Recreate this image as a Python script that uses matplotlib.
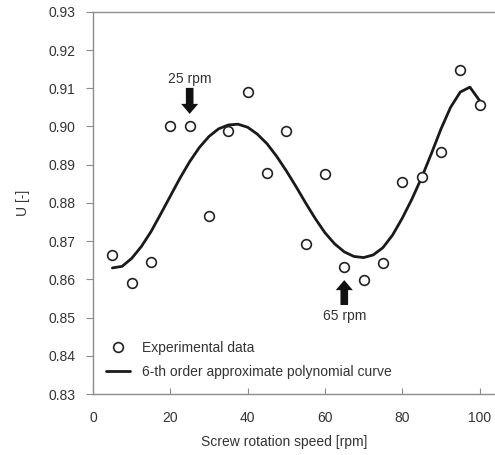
import matplotlib
matplotlib.use("Agg")
import matplotlib.pyplot as plt

plt.rcParams['font.family'] = ['Liberation Sans', 'DejaVu Sans']

# experimental data
speed = [5, 10, 15, 20, 25, 30, 35, 40, 45, 50, 55, 60, 65, 70, 75, 80, 85, 90, 95, 100]
U = [0.8664, 0.8590, 0.8645, 0.9000, 0.9000, 0.8767, 0.8987, 0.9090, 0.8879, 0.8988,
     0.8693, 0.8876, 0.8633, 0.8598, 0.8644, 0.8854, 0.8869, 0.8934, 0.9149, 0.9057]

# 6-th order curve
curve_x = [5, 7.5, 10, 12.5, 15, 17.5, 20, 22.5, 25, 27.5, 30, 32.5, 35, 37.5, 40,
           42.5, 45, 47.5, 50, 52.5, 55, 57.5, 60, 62.5, 65, 67.5, 70, 72.5, 75,
           77.5, 80, 82.5, 85, 87.5, 90, 92.5, 95, 97.5, 100]
curve_y = [0.8630, 0.8634, 0.8655, 0.8686, 0.8725, 0.8771, 0.8818, 0.8865, 0.8908,
           0.8945, 0.8974, 0.8994, 0.9004, 0.9006, 0.8998, 0.8980, 0.8955, 0.8922,
           0.8884, 0.8843, 0.8800, 0.8759, 0.8722, 0.8693, 0.8672, 0.8660, 0.8657,
           0.8664, 0.8683, 0.8716, 0.8760, 0.8810, 0.8866, 0.8928, 0.8993, 0.9050,
           0.9090, 0.9103, 0.9068]

xticks = [0, 20, 40, 60, 80, 100]
yticks = [0.83, 0.84, 0.85, 0.86, 0.87, 0.88, 0.89, 0.90, 0.91, 0.92, 0.93]

fig = plt.figure(figsize=(4.95, 4.55), dpi=100)
ax = fig.add_axes([0.188, 0.134, 0.812, 0.84])

ax.plot(speed, U, 'o', mfc='white', mec='#222222', ms=7, mew=1.2, ls='none',
        label='Experimental data', zorder=3)
ax.plot(curve_x, curve_y, color='#1a1a1a', lw=2.0, solid_joinstyle='round',
        solid_capstyle='round', label='6-th order approximate polynomial curve')

ax.set_xlim(0, 104)
ax.set_ylim(0.83, 0.93)
ax.set_xticks(xticks)
ax.set_yticks(yticks)
ax.set_yticklabels(['%.2f' % v for v in yticks])

for s in ['left', 'bottom', 'top']:
    ax.spines[s].set_color('#8c8c8c')
    ax.spines[s].set_linewidth(1.0)
ax.spines['right'].set_visible(False)

ax.tick_params(axis='x', direction='in', length=4, color='#8c8c8c', labelsize=10,
               labelcolor='#333333', pad=12)
ax.tick_params(axis='y', direction='out', length=5, color='#8c8c8c', labelsize=10,
               labelcolor='#333333', pad=8)

ax.set_xlabel('Screw rotation speed [rpm]', fontsize=10, color='#333333')
ax.xaxis.set_label_coords(0.475, -0.108)
ax.set_ylabel('U [-]', fontsize=10, color='#333333')
ax.yaxis.set_label_coords(-0.157, 0.5)

# arrows
arrow = dict(arrowstyle='simple,head_length=7.2,head_width=12.3,tail_width=5.5',
             mutation_scale=1, fc='#111111', ec='none', shrinkA=0, shrinkB=0)
ax.annotate('', xy=(25, 0.9033), xytext=(25, 0.9101), arrowprops=arrow)
ax.text(25, 0.9125, '25 rpm', ha='center', va='center', fontsize=10, color='#333333')
ax.annotate('', xy=(65, 0.8598), xytext=(65, 0.8533), arrowprops=arrow)
ax.text(65, 0.8505, '65 rpm', ha='center', va='center', fontsize=10, color='#333333')

ax.legend(loc='lower left', bbox_to_anchor=(0.0, 0.007), frameon=False, fontsize=10,
          handlelength=1.75, handletextpad=0.9, labelspacing=0.7,
          labelcolor='#333333')

fig.savefig('out.png', dpi=100)
